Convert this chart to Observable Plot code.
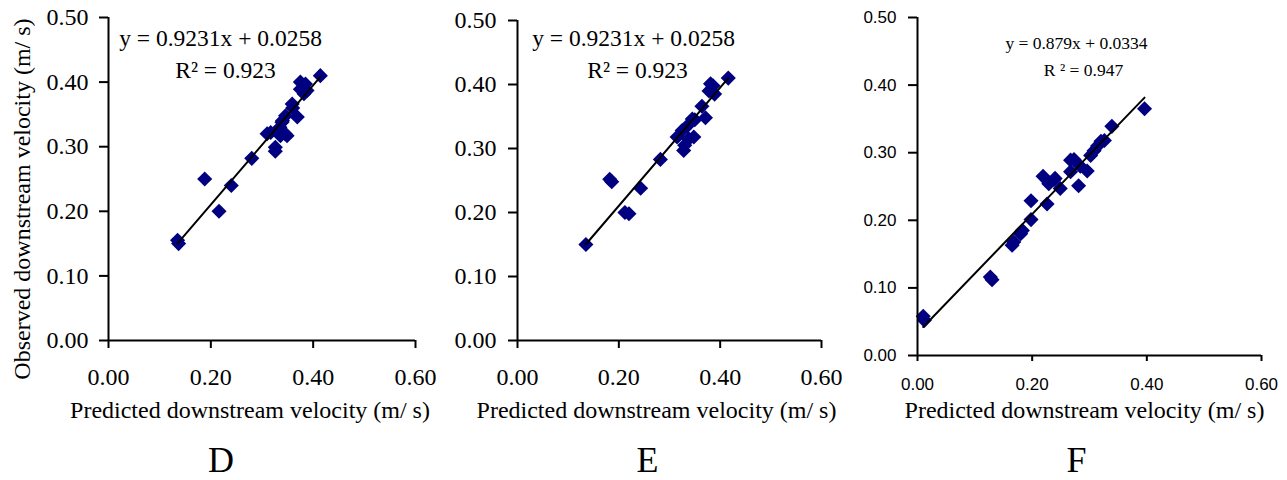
<!DOCTYPE html>
<html><head><meta charset="utf-8">
<script src="https://cdn.jsdelivr.net/npm/d3@7"></script>
<script src="https://cdn.jsdelivr.net/npm/@observablehq/plot@0.6"></script>
<style>
body{margin:0;background:#fff;}
#wrap{position:relative;width:1287px;height:480px;overflow:hidden;background:#fff;}
#wrap > svg{position:absolute;top:0;overflow:visible;}
</style></head><body><div id="wrap"></div>
<script>
// ---- data ----
const xTicks = [0, 0.2, 0.4, 0.6];
const yTicks = [0, 0.1, 0.2, 0.3, 0.4, 0.5];
const xLabel = "Predicted downstream velocity (m/ s)";
const yLabel = "Observed downstream velocity (m/ s)";

const dPredicted = [0.135,0.137,0.188,0.216,0.240,0.280,0.310,0.317,0.326,0.326,0.335,0.336,0.339,0.340,0.346,0.345,0.349,0.360,0.359,0.369,0.375,0.375,0.382,0.385,0.388,0.414];
const dObserved  = [0.155,0.150,0.250,0.200,0.240,0.282,0.320,0.322,0.299,0.293,0.330,0.317,0.338,0.340,0.348,0.320,0.317,0.360,0.366,0.346,0.400,0.389,0.382,0.397,0.387,0.410];
const dSlope = 0.9231, dIntercept = 0.0258;
const dEquation = "y = 0.9231x + 0.0258", dR2 = "R² = 0.923", dLetter = "D";

const ePredicted = [0.135,0.182,0.186,0.212,0.220,0.243,0.282,0.315,0.325,0.328,0.330,0.335,0.338,0.345,0.348,0.350,0.364,0.371,0.378,0.381,0.386,0.389,0.416];
const eObserved  = [0.150,0.252,0.248,0.200,0.198,0.238,0.283,0.318,0.328,0.297,0.305,0.335,0.315,0.346,0.318,0.345,0.366,0.348,0.390,0.401,0.398,0.385,0.410];
const eSlope = 0.9231, eIntercept = 0.0258;
const eEquation = "y = 0.9231x + 0.0258", eR2 = "R² = 0.923", eLetter = "E";

const fPredicted = [0.010,0.012,0.127,0.130,0.165,0.168,0.180,0.183,0.198,0.198,0.219,0.226,0.229,0.238,0.240,0.249,0.267,0.273,0.267,0.281,0.284,0.296,0.302,0.308,0.314,0.320,0.326,0.339,0.396];
const fObserved  = [0.058,0.052,0.116,0.112,0.163,0.168,0.180,0.185,0.201,0.229,0.265,0.224,0.254,0.260,0.262,0.247,0.289,0.290,0.272,0.251,0.280,0.273,0.296,0.303,0.310,0.317,0.318,0.339,0.365];
const fSlope = 0.879, fIntercept = 0.0334;
const fEquation = "y = 0.879x + 0.0334", fR2 = "R ² = 0.947", fLetter = "F";

// ---- drawing ----
const serif = "'Liberation Serif', 'Times New Roman', serif";
const sans = "'Liberation Sans', Arial, sans-serif";
const fmt = d3.format(".2f");

function panel(cfg) {
  const pts = cfg.px.map((x, i) => ({x, y: cfg.py[i]}));
  const ext = d3.extent(cfg.px);
  const fit = ext.map(x => ({x, y: cfg.slope * x + cfg.intercept}));
  const marks = [
    Plot.dot(pts, {x: "x", y: "y", symbol: "diamond2", r: 6.8, fill: "#000080", stroke: "none"}),
    Plot.line(fit, {x: "x", y: "y", stroke: "black", strokeWidth: 2}),
    Plot.ruleY([0], {stroke: "black", strokeWidth: 2}),
    Plot.ruleX([0], {stroke: "black", strokeWidth: 2}),
    Plot.axisX({ticks: xTicks, tickFormat: fmt, tickSize: cfg.xTickSize, tickPadding: cfg.xTickPad, strokeWidth: 2,
      fontSize: cfg.tickFont, fontFamily: cfg.tickFamily, fill: "black", label: null}),
    Plot.axisY({ticks: yTicks, tickFormat: fmt, tickSize: 9, tickPadding: cfg.yTickPad, strokeWidth: 2,
      fontSize: cfg.tickFont, fontFamily: cfg.tickFamily, fill: "black", label: null}),
    Plot.text([cfg.eq], {frameAnchor: "top-left", dx: cfg.eqDx, dy: cfg.eqDy, textAnchor: "middle", lineAnchor: "middle",
      fontSize: cfg.eqFont, fontFamily: serif, fill: "black"}),
    Plot.text([cfg.r2], {frameAnchor: "top-left", dx: cfg.r2Dx, dy: cfg.r2Dy, textAnchor: "middle", lineAnchor: "middle",
      fontSize: cfg.eqFont, fontFamily: serif, fill: "black"}),
    Plot.text([xLabel], {frameAnchor: "bottom", dx: cfg.labDx, dy: cfg.labDy, textAnchor: "middle", lineAnchor: "middle",
      fontSize: 24, fontFamily: serif, fill: "black"}),
    Plot.text([cfg.letter], {frameAnchor: "bottom", dx: cfg.letDx, dy: cfg.letDy, textAnchor: "middle", lineAnchor: "middle",
      fontSize: 36, fontFamily: serif, fill: "black"})
  ];
  if (cfg.yLab) marks.push(Plot.text([yLabel], {frameAnchor: "left", rotate: -90, dx: cfg.yLabDx, dy: cfg.yLabDy,
      textAnchor: "middle", lineAnchor: "middle", fontSize: 24, fontFamily: serif, fill: "black"}));
  const svg = Plot.plot({
    width: cfg.width, height: 480,
    marginLeft: cfg.ml, marginRight: cfg.mr, marginTop: cfg.mt, marginBottom: cfg.mb,
    x: {domain: [0, 0.6]}, y: {domain: [0, 0.5]},
    style: {background: "transparent", fontFamily: serif, color: "black", overflow: "visible"},
    marks
  });
  svg.style.left = cfg.left + "px";
  document.getElementById("wrap").appendChild(svg);
}

panel({left: 0, width: 430, ml: 108, mr: 15, mt: 17, mb: 140,
  px: dPredicted, py: dObserved, slope: dSlope, intercept: dIntercept,
  eq: dEquation, r2: dR2, letter: dLetter,
  tickFont: 24, tickFamily: serif, xTickSize: 8, xTickPad: 19, yTickPad: 11,
  eqFont: 23.5, eqDx: 112, eqDy: 21, r2Dx: 117, r2Dy: 53,
  labDx: -12, labDy: 70, letDx: -41, letDy: 120,
  yLab: true, yLabDx: -86, yLabDy: 20});

panel({left: 430, width: 420, ml: 87, mr: 29, mt: 20, mb: 140,
  px: ePredicted, py: eObserved, slope: eSlope, intercept: eIntercept,
  eq: eEquation, r2: eR2, letter: eLetter,
  tickFont: 24, tickFamily: serif, xTickSize: 8, xTickPad: 19, yTickPad: 12,
  eqFont: 23.5, eqDx: 116, eqDy: 18, r2Dx: 120, r2Dy: 50,
  labDx: -13, labDy: 70, letDx: -22, letDy: 120});

panel({left: 850, width: 437, ml: 67, mr: 26, mt: 17, mb: 125,
  px: fPredicted, py: fObserved, slope: fSlope, intercept: fIntercept,
  eq: fEquation, r2: fR2, letter: fLetter,
  tickFont: 17, tickFamily: sans, xTickSize: 6, xTickPad: 16, yTickPad: 12,
  eqFont: 17.5, eqDx: 159, eqDy: 26, r2Dx: 166, r2Dy: 53,
  labDx: -5, labDy: 55, letDx: -13, letDy: 105});
</script></body></html>
